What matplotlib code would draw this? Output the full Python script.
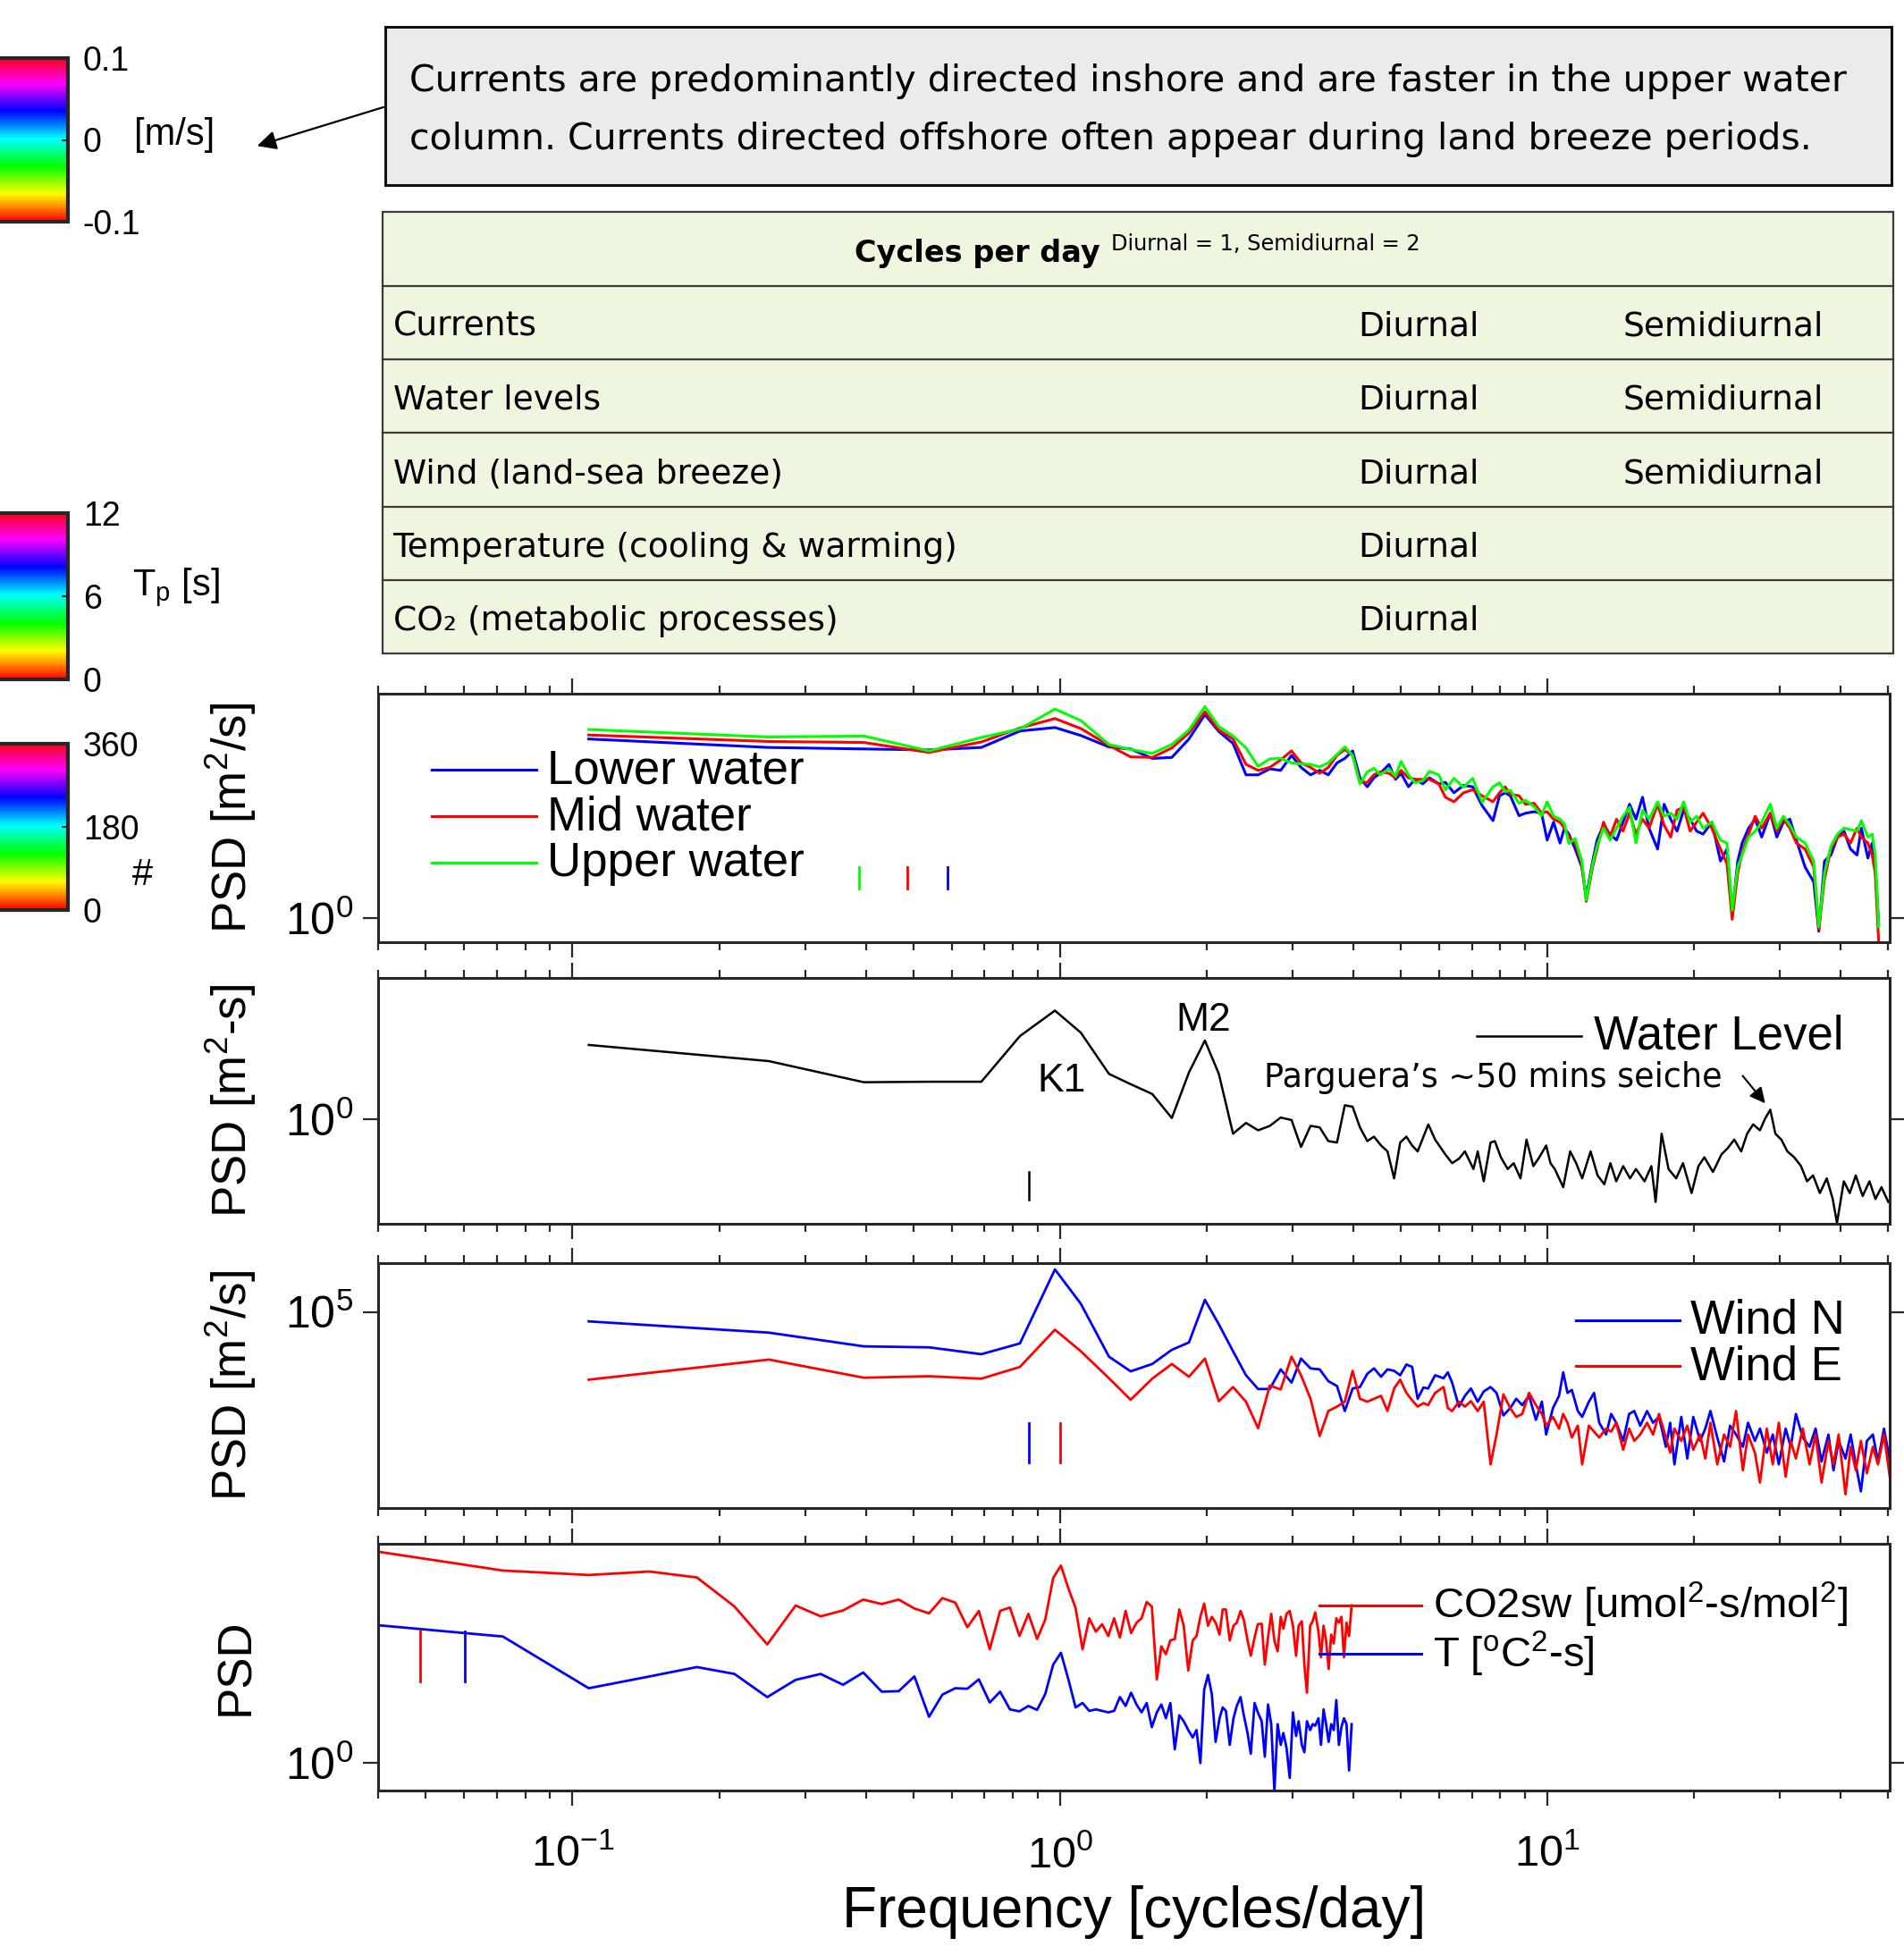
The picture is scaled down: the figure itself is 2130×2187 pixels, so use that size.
import numpy as np
import matplotlib
matplotlib.use("Agg")
import matplotlib.pyplot as plt
from matplotlib.patches import Rectangle, FancyArrowPatch
from matplotlib.lines import Line2D
from matplotlib.ticker import LogLocator, NullLocator, NullFormatter, FixedLocator
from matplotlib.colors import Normalize
from matplotlib.cm import ScalarMappable

# ---------------- data (PSD values stored as log10) ----------------
# panel 1: currents
cur_freq = [0.108, 0.253, 0.396, 0.539, 0.690, 0.828, 0.977, 1.104, 1.261, 1.397, 1.547, 1.697, 1.840, 1.984,
            2.119, 2.266, 2.409, 2.551, 2.696, 2.838, 2.987, 3.124, 3.268, 3.412, 3.554, 3.703, 3.842, 3.986, 4.127,
            4.273, 4.407, 4.544, 4.734, 4.882, 5.012, 5.190, 5.352, 5.553, 5.727,
            5.990, 6.178, 6.435, 6.732, 7.028, 7.352, 7.737, 7.979, 8.193, 8.398,
            8.749, 9.020, 9.398, 9.730, 9.993, 10.30, 10.62, 10.84, 11.07, 11.41,
            11.77, 12.02, 12.39, 12.65, 13.04, 13.45, 13.87, 14.30, 14.75, 15.20,
            15.68, 16.17, 16.84, 17.36, 17.91, 18.46, 19.04, 19.63, 20.25, 20.87,
            21.75, 22.66, 23.37, 23.95, 24.59, 25.10, 25.88, 26.70, 27.53, 28.68,
            29.57, 30.50, 31.45, 32.43, 33.79, 35.20, 36.06, 37.04, 38.19, 39.38,
            40.62, 41.88, 43.19, 44.09, 45.46, 46.40, 47.07, 47.84]
upper_water = [3.78, 3.63, 3.65, 3.35, 3.62, 3.79, 4.19, 3.96, 3.48, 3.38, 3.30, 3.48, 3.77, 4.24,
               3.84, 3.65, 3.41, 3.04, 3.19, 3.20, 3.11, 3.09, 3.08, 3.03, 3.11, 3.28, 3.43, 3.26, 2.69,
               2.93, 3.00, 2.87, 2.99, 2.84, 3.14, 2.87, 2.71, 2.75, 2.94,
               2.87, 2.57, 2.80, 2.62, 2.80, 2.32, 2.63, 2.71, 2.53, 2.56,
               2.30, 2.36, 2.23, 2.05, 2.33, 2.04, 1.98, 1.89, 1.49, 1.59,
               1.14, 0.36, 1.08, 1.44, 1.80, 1.56, 1.80, 2.04, 2.22, 1.50,
               2.16, 1.98, 2.33, 2.04, 2.10, 1.98, 2.33, 1.92, 2.04, 1.80,
               1.92, 1.56, 1.50, 0.15, 1.02, 1.26, 1.62, 1.74, 1.92, 2.28,
               1.80, 2.04, 1.86, 1.62, 1.50, 1.14, -0.18, 0.90, 1.44, 1.68,
               1.80, 1.77, 1.74, 1.95, 1.62, 1.68, 1.26, -0.18]
mid_water = [3.67, 3.54, 3.52, 3.32, 3.53, 3.81, 4.00, 3.80, 3.46, 3.23, 3.22, 3.41, 3.71, 4.14,
             3.77, 3.59, 3.08, 2.96, 3.02, 3.17, 3.35, 3.11, 3.02, 2.90, 3.02, 3.26, 3.38, 3.26, 2.72,
             2.72, 2.87, 2.93, 2.90, 2.81, 2.96, 2.81, 2.78, 2.78, 2.78,
             2.69, 2.42, 2.33, 2.51, 2.57, 2.45, 2.33, 2.51, 2.63, 2.48,
             2.45, 2.28, 2.30, 2.10, 2.13, 1.98, 1.92, 1.80, 1.62, 1.50,
             1.08, 0.33, 1.02, 1.38, 1.92, 1.62, 1.98, 1.74, 2.10, 1.68,
             1.98, 1.80, 2.28, 1.86, 1.62, 2.16, 2.22, 1.74, 1.92, 2.10,
             1.80, 1.38, 1.08, -0.03, 0.90, 1.32, 1.68, 2.04, 1.80, 2.10,
             1.74, 1.98, 1.80, 1.50, 1.38, 1.02, -0.24, 0.78, 1.38, 1.62,
             1.68, 1.50, 1.80, 1.62, 1.50, 1.26, 0.90, -0.48]
lower_water = [3.59, 3.42, 3.39, 3.37, 3.42, 3.75, 3.82, 3.66, 3.43, 3.39, 3.20, 3.22, 3.59, 4.08,
               3.74, 3.50, 2.87, 2.87, 2.99, 2.96, 3.26, 3.02, 2.87, 2.96, 2.87, 3.11, 3.20, 3.35, 2.81,
               2.63, 2.81, 2.90, 3.08, 2.78, 2.90, 2.63, 2.78, 2.69, 2.81,
               2.69, 2.72, 2.51, 2.66, 2.63, 2.25, 1.95, 2.45, 2.51, 2.45,
               2.05, 2.10, 2.13, 2.10, 1.56, 1.92, 1.50, 1.80, 1.68, 1.38,
               1.02, 0.42, 1.14, 1.56, 1.86, 1.68, 1.56, 1.92, 2.28, 1.98,
               2.42, 1.80, 1.38, 2.28, 1.98, 1.74, 2.16, 1.98, 1.74, 1.68,
               1.92, 1.14, 1.38, 0.06, 1.14, 1.50, 1.80, 1.98, 1.62, 2.10,
               1.62, 1.92, 1.98, 1.56, 1.02, 0.72, -0.27, 1.14, 1.26, 1.62,
               1.74, 1.38, 1.26, 1.80, 1.20, 1.50, 1.02, -0.12]
cur_ci_freq = [0.387, 0.486, 0.587]
cur_ci_colors = ["#00ff00", "#ff0000", "#0000ff"]
cur_ci = (0.58, 1.02)

# panel 2: water level
wl_freq = [0.108, 0.253, 0.396, 0.539, 0.690, 0.828, 0.977, 1.104, 1.261, 1.397, 1.547, 1.697, 1.840, 1.984,
           2.119, 2.266, 2.409, 2.551, 2.696, 2.838, 2.987, 3.124, 3.268, 3.412, 3.554, 3.703, 3.842, 3.986,
           4.127, 4.273, 4.41, 4.56, 4.70, 4.85, 4.99, 5.14, 5.28, 5.42, 5.70,
           5.886, 6.175, 6.378, 6.587, 6.776, 7.055, 7.199, 7.406, 7.648, 7.805,
           8.030, 8.293, 8.531, 8.810, 9.064, 9.361, 9.630, 9.947, 10.15, 10.36,
           10.78, 11.14, 11.46, 11.79, 12.27, 12.68, 13.09, 13.47, 13.85, 14.31,
           14.78, 15.20, 15.83, 16.35, 16.68, 17.16, 17.73, 18.38, 18.98, 19.77,
           20.42, 21.00, 21.87, 22.77, 23.42, 24.19, 24.99, 25.70, 26.44, 27.31,
           27.98, 28.67, 29.37, 30.21, 31.08, 32.10, 33.15, 34.11, 35.09, 36.24,
           37.43, 38.51, 39.29, 40.58, 41.74, 42.94, 44.35, 45.81, 47.12, 48.48, 50.07]
water_level = [1.51, 1.18, 0.75, 0.76, 0.76, 1.69, 2.21, 1.76, 0.92, 0.71, 0.51, 0.02, 0.95, 1.60,
               0.92, -0.30, -0.08, -0.23, -0.14, 0.03, -0.02, -0.57, -0.14, -0.17, -0.45, -0.48, 0.28, 0.25,
               -0.17, -0.45, -0.36, -0.54, -0.66, -1.21, -0.48, -0.36, -0.54, -0.66, -0.11,
               -0.42, -0.72, -0.90, -0.81, -0.66, -1.02, -0.66, -1.27, -0.48, -0.45,
               -0.78, -1.02, -0.90, -1.21, -0.42, -0.96, -0.78, -0.54, -0.90, -1.02,
               -1.39, -0.66, -0.90, -1.21, -0.66, -1.15, -1.33, -0.90, -1.27, -0.96,
               -1.21, -1.02, -1.27, -0.96, -1.69, -0.30, -1.02, -1.21, -0.90, -1.51,
               -0.96, -0.78, -1.08, -0.72, -0.60, -0.42, -0.66, -0.30, -0.11, -0.23,
               0.01, 0.19, -0.30, -0.42, -0.66, -0.78, -0.96, -1.27, -1.15, -1.51,
               -1.21, -1.63, -2.12, -1.27, -1.51, -1.15, -1.57, -1.27, -1.63, -1.39, -1.69]
wl_ci_freq = 0.864
wl_ci = (-1.65, -1.07)

# panel 3: wind
wind_freq = [0.108, 0.253, 0.396, 0.539, 0.690, 0.828, 0.977, 1.104, 1.261, 1.397, 1.547, 1.697, 1.840, 1.984,
             2.119, 2.266, 2.409, 2.551, 2.696, 2.838, 2.987, 3.124, 3.268, 3.412, 3.554, 3.703, 3.842, 3.986,
             4.127, 4.273, 4.41, 4.56, 4.70, 4.85, 4.99, 5.14, 5.28, 5.42, 5.57,
             5.695, 5.886, 6.126, 6.251, 6.378, 6.587, 6.776, 6.970, 7.199, 7.406,
             7.648, 7.868, 8.127, 8.394, 8.635, 8.882, 9.174, 9.476, 9.747, 9.946,
             10.27, 10.57, 10.78, 11.00, 11.23, 11.55, 11.79, 12.17, 12.47, 12.78,
             13.20, 13.52, 13.85, 14.31, 14.72, 15.08, 15.51, 16.02, 16.48, 16.95,
             17.51, 17.87, 18.23, 18.83, 19.37, 19.93, 20.58, 21.09, 21.61, 22.32,
             23.05, 23.71, 24.39, 25.19, 25.81, 26.66, 27.31, 28.21, 29.01, 29.85,
             30.83, 31.58, 32.36, 33.43, 34.52, 35.51, 36.53, 37.73, 38.65, 39.60,
             40.90, 41.91, 42.94, 43.99, 45.25, 46.55, 47.69, 49.06, 50.47]
wind_n = [4.81, 4.58, 4.30, 4.28, 4.14, 4.36, 5.87, 5.17, 4.09, 3.79, 3.94, 4.23, 4.38, 5.25,
          4.75, 4.20, 3.71, 3.43, 3.43, 3.83, 3.56, 4.05, 3.85, 3.83, 3.59, 3.49, 2.98, 3.44,
          3.47, 3.74, 3.85, 3.68, 3.83, 3.80, 3.71, 3.93, 3.88, 3.23, 3.46,
          3.44, 3.71, 3.65, 3.77, 3.56, 3.07, 3.29, 3.44, 3.17, 3.38,
          3.47, 3.35, 2.89, 3.04, 3.23, 3.10, 3.29, 2.80, 3.17, 2.50,
          3.04, 3.29, 3.77, 3.35, 3.41, 2.98, 2.86, 3.17, 3.35, 2.74,
          2.50, 2.92, 2.74, 2.37, 2.92, 2.98, 2.68, 2.98, 2.74, 2.86,
          2.25, 2.74, 1.89, 2.86, 2.01, 2.86, 2.37, 2.62, 2.98, 2.44,
          1.95, 2.68, 2.50, 2.25, 2.74, 2.37, 2.62, 2.13, 2.50, 1.89,
          2.62, 2.25, 2.92, 2.44, 2.25, 2.62, 1.95, 2.50, 1.77, 2.37,
          2.01, 2.50, 1.89, 1.34, 2.37, 2.50, 1.95, 2.62, 1.95]
wind_e = [3.62, 4.03, 3.66, 3.69, 3.64, 3.88, 4.64, 4.20, 3.65, 3.21, 3.64, 3.94, 3.68, 4.05,
          3.18, 3.47, 3.17, 2.63, 3.50, 3.42, 4.09, 3.71, 3.23, 2.47, 2.98, 3.07, 3.17, 3.80,
          3.23, 3.17, 3.23, 3.29, 2.98, 3.44, 3.62, 3.35, 3.20, 3.07, 3.14,
          3.10, 3.35, 3.47, 3.04, 2.98, 3.17, 3.07, 3.18, 2.98, 3.17,
          1.89, 2.50, 3.32, 3.04, 2.86, 2.92, 3.35, 3.10, 2.92, 2.68,
          2.86, 2.62, 2.92, 2.74, 2.44, 2.68, 1.89, 2.68, 2.56, 2.44,
          2.62, 2.56, 2.74, 2.19, 2.62, 2.37, 2.50, 2.74, 2.50, 2.92,
          2.44, 2.13, 2.62, 2.37, 2.68, 2.19, 2.50, 2.01, 2.74, 1.89,
          2.50, 2.25, 2.98, 1.77, 2.50, 2.13, 1.52, 2.62, 1.89, 2.74,
          1.64, 2.37, 2.01, 2.62, 1.89, 2.50, 1.52, 2.37, 1.89, 2.50,
          1.28, 2.25, 1.77, 2.37, 1.71, 2.25, 1.89, 2.50, 1.61]
wind_ci_freq = [0.864, 1.0]
wind_ci = (1.93, 2.74)

# panel 4: CO2 and temperature
co2_freq = [0.036, 0.072, 0.108, 0.144, 0.180, 0.215, 0.251, 0.287, 0.323, 0.359,
            0.395, 0.431, 0.467, 0.503, 0.539, 0.574, 0.610, 0.646, 0.682, 0.718,
            0.754, 0.790, 0.826, 0.862, 0.898, 0.933, 0.969, 1.005, 1.041, 1.077,
            1.113, 1.149, 1.185, 1.221, 1.257, 1.292, 1.328, 1.364, 1.400, 1.436,
            1.471, 1.507, 1.544, 1.581, 1.615, 1.650, 1.685, 1.721, 1.758, 1.795,
            1.834, 1.873, 1.907, 1.942, 1.977, 2.013, 2.050, 2.087, 2.126, 2.158,
            2.191, 2.231, 2.271, 2.306, 2.348, 2.384, 2.427, 2.464, 2.509, 2.547,
            2.594, 2.633, 2.673, 2.714, 2.755, 2.797, 2.839, 2.874, 2.917, 2.962,
            3.007, 3.052, 3.089, 3.136, 3.174, 3.213, 3.262, 3.301, 3.341, 3.392,
            3.433, 3.475, 3.517, 3.560, 3.603, 3.647, 3.691, 3.736, 3.781, 3.827,
            3.873, 3.920, 3.968]
co2sw = [4.35, 3.90, 3.81, 3.88, 3.76, 3.17, 2.40, 3.19, 2.97, 3.09,
         3.31, 3.22, 3.31, 3.13, 3.03, 3.34, 3.25, 2.75, 3.08, 2.30,
         3.08, 3.15, 2.57, 3.02, 2.51, 2.90, 3.75, 4.00, 3.54, 3.14,
         2.30, 2.93, 2.66, 2.81, 2.57, 2.93, 2.54, 3.08, 2.63, 2.84,
         2.93, 3.26, 3.17, 1.69, 2.36, 2.20, 2.48, 2.51, 3.11, 2.78,
         1.87, 2.48, 2.57, 2.96, 3.23, 2.78, 2.96, 2.84, 2.60, 3.11,
         3.11, 2.48, 2.78, 2.84, 3.08, 2.90, 2.48, 2.17, 2.54, 2.81,
         2.82, 1.99, 2.54, 3.02, 2.48, 2.26, 2.96, 2.72, 3.02, 3.08,
         2.78, 2.17, 2.78, 2.87, 1.99, 1.42, 2.78, 2.87, 3.05, 2.66,
         2.14, 2.78, 2.48, 1.90, 2.60, 2.42, 2.93, 2.84, 2.96, 2.14,
         2.84, 2.57, 3.19]
temp = [2.83, 2.56, 1.51, 1.75, 1.94, 1.80, 1.33, 1.68, 1.80, 1.58,
        1.83, 1.44, 1.45, 1.75, 0.93, 1.38, 1.51, 1.50, 1.69, 1.22,
        1.44, 1.08, 1.04, 1.15, 1.07, 1.39, 1.99, 2.23, 1.69, 1.12,
        1.21, 1.05, 1.08, 1.05, 1.02, 1.05, 1.33, 1.15, 1.42, 1.18,
        1.02, 1.21, 0.72, 1.02, 1.18, 0.90, 1.21, 0.27, 0.96, 0.84,
        0.66, 0.51, 0.66, -0.01, 1.48, 1.78, 1.39, 0.42, 0.90, 1.12,
        1.05, 0.36, 0.90, 1.15, 1.33, 0.96, 0.60, 0.18, 1.21, 1.02,
        0.84, 0.12, 1.18, 0.78, -0.58, 0.78, 0.36, 0.60, 0.30, -0.31,
        1.02, 0.54, 0.84, 0.36, 0.21, 0.84, 0.66, 0.78, 0.75, 0.90,
        0.36, 1.08, 0.78, 0.42, 0.78, 0.66, 1.27, 0.36, 0.72, 0.90,
        0.78, -0.16, 0.78]
co2_ci_freq = [0.0487, 0.0601]
co2_ci = [(1.64, 2.69), (1.64, 2.67)]

# table / colorbars text
table_rows = ["Currents", "Water levels", "Wind (land-sea breeze)",
              "Temperature (cooling & warming)", "CO\u2082 (metabolic processes)"]
table_semidiurnal = [True, True, True, False, False]
note_lines = ["Currents are predominantly directed inshore and are faster in the upper water",
              "column. Currents directed offshore often appear during land breeze periods."]
cbar_ranges = [(-0.1, 0.1), (0, 12), (0, 360)]
cbar_ticks = [[-0.1, 0, 0.1], [0, 6, 12], [0, 180, 360]]
cbar_ticklabels = [["-0.1", "0", "0.1"], ["0", "6", "12"], ["0", "180", "360"]]
cbar_labels = ["[m/s]", "T$_{p}$ [s]", "#"]

for a, b in [(cur_freq, upper_water), (cur_freq, mid_water), (cur_freq, lower_water),
             (wl_freq, water_level), (wind_freq, wind_n), (wind_freq, wind_e),
             (co2_freq, co2sw), (co2_freq, temp)]:
    assert len(a) == len(b), (len(a), len(b))

# ---------------- figure ----------------
plt.rcParams["font.family"] = ["Liberation Sans", "DejaVu Sans"]
plt.rcParams["mathtext.fontset"] = "custom"
plt.rcParams["mathtext.rm"] = "Liberation Sans"
plt.rcParams["mathtext.default"] = "regular"
NARROW = ["Liberation Sans Narrow", "DejaVu Sans Condensed", "DejaVu Sans"]

W, H = 2130, 2187
fig = plt.figure(figsize=(W / 100, H / 100), dpi=100)
fig.patch.set_facecolor("white")
renderer = fig.canvas.get_renderer()


def fx(px):
    return px / W


def fy(py):
    return 1 - py / H


def fit_width(t, width_px):
    w = t.get_window_extent(renderer).width
    t.set_fontsize(t.get_fontsize() * width_px / w)
    return t.get_fontsize()


def p(vals):
    return np.power(10.0, np.asarray(vals))


# colorbars on the left
cbar_box = [(65, 248), (574, 760), (832, 1018)]
for (top, bot), rng, ticks, tl in zip(cbar_box, cbar_ranges, cbar_ticks, cbar_ticklabels):
    cax = fig.add_axes([-0.025, fy(bot), fx(76) + 0.025, (bot - top) / H])
    sm = ScalarMappable(norm=Normalize(*rng), cmap="hsv")
    cb = fig.colorbar(sm, cax=cax, ticks=ticks)
    cb.ax.set_yticklabels(tl)
    cb.outline.set_linewidth(3)
    cb.outline.set_edgecolor("#262626")
    cb.ax.tick_params(direction="in", length=5, width=1.5, labelsize=27, pad=12, color="#262626")
fig.text(fx(150), fy(151), cbar_labels[0], fontsize=30, va="center", ha="left")
fig.text(fx(148), fy(657), cbar_labels[1], fontsize=30, va="center", ha="left")
fig.text(fx(148), fy(979), cbar_labels[2], fontsize=30, va="center", ha="left")

# note box + arrow
fig.add_artist(Rectangle((fx(431), fy(206.7)), fx(2116) - fx(431), (206.7 - 30) / H,
                         transform=fig.transFigure, facecolor="#ebebeb", edgecolor="#111111", lw=2.2))
t1 = fig.text(fx(458), fy(101.7), note_lines[0], family=NARROW, fontsize=34, va="baseline")
fs = fit_width(t1, 1608)
fig.text(fx(458), fy(166.7), note_lines[1], family=NARROW, fontsize=fs, va="baseline")
fig.add_artist(FancyArrowPatch((fx(432), fy(119)), (fx(285), fy(164)), transform=fig.transFigure,
                               arrowstyle="-|>", mutation_scale=32, lw=1.6, color="black"))

# table
fig.add_artist(Rectangle((fx(427.6), fy(730.7)), fx(2118) - fx(427.6), (730.7 - 237.3) / H,
                         transform=fig.transFigure, facecolor="#eff6e0", edgecolor="#3a3a3a", lw=1.6))
for yl in [320, 402.3, 484.3, 566.7, 649]:
    fig.add_artist(Line2D([fx(427.6), fx(2118)], [fy(yl), fy(yl)], transform=fig.transFigure,
                          color="#3a3a3a", lw=1.6))
th = fig.text(fx(956.5), fy(293), "Cycles per day", family=NARROW, weight="bold", fontsize=34, va="baseline")
fit_width(th, 275)
ts = fig.text(fx(1243), fy(280), "Diurnal = 1, Semidiurnal = 2", family=NARROW, fontsize=18, va="baseline")
fit_width(ts, 346)
row_texts = []
for i, name in enumerate(table_rows):
    yb = 375.7 + i * 82.3
    row_texts.append(fig.text(fx(439.6), fy(yb), name, family=NARROW, fontsize=32, va="baseline"))
    row_texts.append(fig.text(fx(1519), fy(yb), "Diurnal", family=NARROW, fontsize=32, va="baseline"))
    if table_semidiurnal[i]:
        row_texts.append(fig.text(fx(1816), fy(yb), "Semidiurnal", family=NARROW, fontsize=32, va="baseline"))
# one size for the whole table, fitted on the widest row label
temp_label = [t for t in row_texts if t.get_text().startswith("Temperature")][0]
fs_row = fit_width(temp_label, 632)
for t in row_texts:
    t.set_fontsize(fs_row)

# ---------------- spectra panels ----------------
panel_px = [(775.7, 1054.3), (1094.3, 1368.7), (1412.7, 1686.7), (1727.3, 2002.7)]
panel_ylim = [(-0.495, 4.505), (-2.13, 2.87), (1.005, 6.005), (-0.562, 4.438)]
panel_ytick = [1, 1, 1e5, 1]
ylabels = ["PSD [m$^{2}$/s]", "PSD [m$^{2}$-s]", "PSD [m$^{2}$/s]", "PSD"]
axes = []
for i, ((top, bot), (lo, hi), yt, yl) in enumerate(zip(panel_px, panel_ylim, panel_ytick, ylabels)):
    ax = fig.add_axes([fx(422.8), fy(bot), fx(2114) - fx(422.8), (bot - top) / H])
    ax.set_xscale("log")
    ax.set_yscale("log")
    ax.yaxis.set_major_locator(FixedLocator([yt]))
    ax.yaxis.set_minor_locator(NullLocator())
    ax.xaxis.set_major_locator(LogLocator(base=10))
    ax.xaxis.set_minor_locator(LogLocator(base=10, subs=np.arange(2, 10)))
    ax.xaxis.set_minor_formatter(NullFormatter())
    ax.tick_params(which="both", direction="out", top=True, right=True, color="#262626", width=1.6)
    ax.tick_params(which="major", length=12)
    ax.tick_params(which="minor", length=6.5)
    ax.tick_params(axis="y", labelsize=36, pad=8)
    ax.tick_params(axis="x", labelsize=35, pad=24)
    if i < 3:
        ax.tick_params(labelbottom=False)
    for s in ax.spines.values():
        s.set_linewidth(2.2)
        s.set_color("#262626")
    ax.set_ylabel(yl, fontsize=38)
    ax.yaxis.set_label_coords(-0.079, 0.5)
    axes.append(ax)

ax1, ax2, ax3, ax4 = axes
BLUE, RED, GREEN = "#0000ff", "#ff0000", "#00ff00"


def legend_entry(ax, x0, x1, xt, y, label, color, fs=37, lw=2.2):
    ax.add_line(Line2D([x0, x1], [y, y], transform=ax.transAxes, color=color, lw=lw, clip_on=False))
    ax.text(xt, y - 0.055, label, transform=ax.transAxes, fontsize=fs, va="baseline", ha="left")


# panel 1
ax1.plot(cur_freq, p(lower_water), color=BLUE, lw=2.2)
ax1.plot(cur_freq, p(mid_water), color=RED, lw=2.2)
ax1.plot(cur_freq, p(upper_water), color=GREEN, lw=2.2)
for f, c in zip(cur_ci_freq, cur_ci_colors):
    ax1.plot([f, f], p(cur_ci), color=c, lw=2)
legend_entry(ax1, 0.0356, 0.1048, 0.112, 0.694, "Lower water", BLUE, fs=38)
legend_entry(ax1, 0.0356, 0.1048, 0.112, 0.506, "Mid water", RED, fs=38)
legend_entry(ax1, 0.0356, 0.1048, 0.112, 0.3205, "Upper water", GREEN, fs=38)

# panel 2
ax2.plot(wl_freq, p(water_level), color="black", lw=1.8)
ax2.plot([wl_ci_freq, wl_ci_freq], p(wl_ci), color="black", lw=1.8)
legend_entry(ax2, 0.727, 0.796, 0.804, 0.765, "Water Level", "black", fs=38, lw=1.8)
ax2.text(0.436, 0.537, "K1", transform=ax2.transAxes, fontsize=32, va="baseline")
ax2.text(0.528, 0.786, "M2", transform=ax2.transAxes, fontsize=32, va="baseline")
tp = ax2.text(0.586, 0.555, "Parguera\u2019s ~50 mins seiche", transform=ax2.transAxes,
              family=NARROW, fontsize=28, va="baseline")
fit_width(tp, 512)
ax2.annotate("", xy=(28.2, 10 ** 0.28), xytext=(24.98, 10 ** 0.92),
             arrowprops=dict(arrowstyle="-|>", color="black", lw=1.5, mutation_scale=26))

# panel 3
ax3.plot(wind_freq, p(wind_n), color=BLUE, lw=2.0)
ax3.plot(wind_freq, p(wind_e), color=RED, lw=2.0)
for f, c in zip(wind_ci_freq, [BLUE, RED]):
    ax3.plot([f, f], p(wind_ci), color=c, lw=2)
legend_entry(ax3, 0.7925, 0.861, 0.868, 0.767, "Wind N", BLUE, fs=38)
legend_entry(ax3, 0.7925, 0.861, 0.868, 0.579, "Wind E", RED, fs=38)

# panel 4
ax4.plot(co2_freq, p(co2sw), color=RED, lw=2.0)
ax4.plot(co2_freq, p(temp), color=BLUE, lw=2.0)
for f, c, ci in zip(co2_ci_freq, [RED, BLUE], co2_ci):
    ax4.plot([f, f], p(ci), color=c, lw=2)
legend_entry(ax4, 0.623, 0.690, 0.698, 0.752, "CO2sw [umol$^{2}$-s/mol$^{2}$]", RED, fs=34)
legend_entry(ax4, 0.623, 0.690, 0.698, 0.554, "T [$^{o}$C$^{2}$-s]", BLUE, fs=34)
ax4.set_xlabel("Frequency [cycles/day]", fontsize=46)
ax4.xaxis.set_label_coords(0.5, -0.385)

for ax, (lo, hi) in zip(axes, panel_ylim):
    ax.set_xlim(0.0399, 50.4)
    ax.set_ylim(10 ** lo, 10 ** hi)

fig.savefig("out.png", dpi=100)
